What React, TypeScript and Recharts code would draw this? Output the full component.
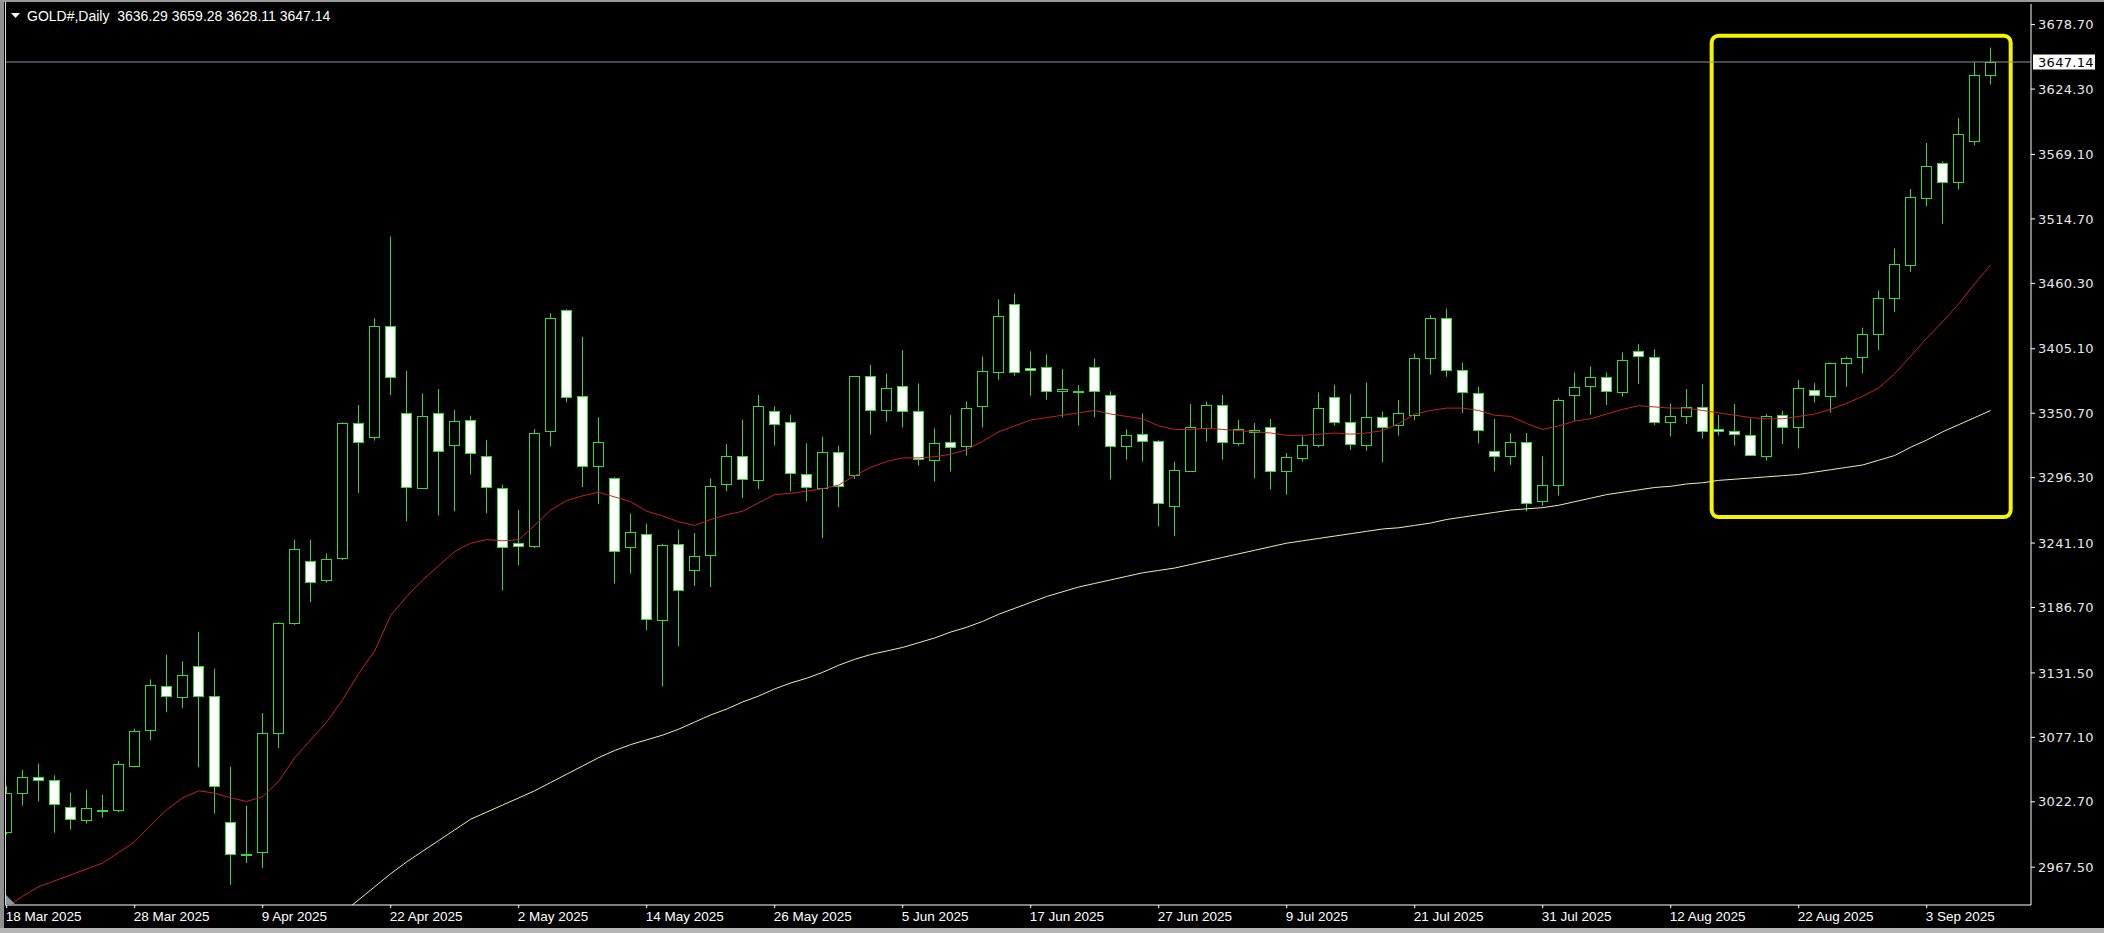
import React from 'react'
import { ComposedChart, Bar, Line, XAxis, YAxis, ReferenceLine, ReferenceArea } from 'recharts'

const SYMBOL = 'GOLD#,Daily'

// daily OHLC, 18 Mar 2025 .. 9 Sep 2025 (bar index 0..124)
const opens = [
  2997.4, 3030.4, 3043.8, 3041.4, 3018.3, 3007.6, 3015.0, 3015.4, 3053.2, 3083.6,
  3120.3, 3110.8, 3137.6, 3111.9, 3005.4, 2978.0, 2980.1, 3080.7, 3173.6, 3226.1,
  3210.3, 3228.6, 3342.2, 3330.9, 3423.9, 3350.6, 3287.7, 3350.6, 3324.2, 3345.0,
  3314.4, 3287.4, 3241.1, 3238.3, 3335.4, 3437.6, 3365.5, 3306.5, 3295.9, 3237.7,
  3249.0, 3176.0, 3240.5, 3218.3, 3231.2, 3291.0, 3314.9, 3294.4, 3352.8, 3343.0,
  3299.4, 3287.4, 3318.3, 3298.9, 3382.3, 3353.6, 3373.9, 3352.8, 3311.2, 3326.1,
  3322.7, 3356.5, 3385.9, 3443.2, 3388.7, 3390.1, 3369.8, 3369.6, 3389.3, 3366.3,
  3323.3, 3333.1, 3326.9, 3272.8, 3302.3, 3337.9, 3357.6, 3325.3, 3334.5, 3338.8,
  3301.7, 3312.6, 3323.9, 3364.0, 3343.5, 3323.9, 3347.7, 3341.0, 3349.5, 3396.9,
  3431.4, 3387.4, 3367.4, 3319.1, 3314.9, 3326.2, 3277.0, 3289.7, 3366.3, 3373.9,
  3380.9, 3368.3, 3403.4, 3397.8, 3343.0, 3348.1, 3356.3, 3337.0, 3336.0, 3332.6,
  3314.9, 3349.4, 3338.7, 3370.4, 3365.4, 3393.5, 3398.5, 3417.3, 3448.2, 3475.7,
  3532.4, 3561.9, 3545.9, 3580.2, 3636.29,
]
const highs = [
  3035.9, 3049.5, 3055.0, 3045.1, 3030.4, 3033.0, 3028.6, 3057.2, 3084.4, 3125.9,
  3146.8, 3141.3, 3166.2, 3135.0, 3052.4, 3019.4, 3097.6, 3174.3, 3244.0, 3244.0,
  3232.3, 3343.0, 3357.6, 3430.9, 3499.7, 3386.5, 3367.4, 3371.1, 3353.4, 3348.6,
  3328.1, 3290.2, 3269.2, 3337.4, 3435.1, 3438.5, 3415.2, 3347.2, 3296.7, 3265.8,
  3257.4, 3240.5, 3252.3, 3249.6, 3295.8, 3324.7, 3345.2, 3366.0, 3356.5, 3349.4,
  3325.3, 3330.9, 3323.3, 3382.3, 3391.5, 3384.2, 3403.9, 3375.8, 3337.9, 3349.1,
  3360.7, 3398.6, 3446.8, 3451.6, 3403.0, 3400.5, 3387.9, 3374.4, 3396.9, 3369.1,
  3337.3, 3350.5, 3328.1, 3309.8, 3358.4, 3360.4, 3366.0, 3344.9, 3342.4, 3345.8,
  3317.1, 3331.2, 3368.2, 3374.7, 3366.8, 3376.6, 3352.2, 3361.8, 3401.1, 3433.4,
  3439.0, 3393.5, 3373.0, 3345.8, 3333.7, 3334.0, 3314.4, 3363.5, 3385.1, 3390.2,
  3385.1, 3402.0, 3409.0, 3404.8, 3359.0, 3371.1, 3375.3, 3349.2, 3358.4, 3346.3,
  3350.0, 3352.8, 3378.6, 3376.1, 3393.5, 3398.5, 3422.9, 3454.4, 3489.8, 3540.0,
  3578.8, 3563.3, 3599.8, 3646.7, 3659.28,
]
const lows = [
  2995.0, 3019.4, 3023.1, 2996.6, 2999.2, 3004.3, 3009.1, 3013.9, 3051.7, 3074.5,
  3098.3, 3102.0, 3051.7, 3012.8, 2952.6, 2970.9, 2966.9, 3068.2, 3172.0, 3191.2,
  3207.7, 3226.8, 3283.5, 3327.6, 3366.0, 3259.4, 3286.9, 3264.4, 3267.8, 3298.9,
  3266.4, 3201.3, 3222.3, 3236.9, 3322.8, 3359.9, 3288.3, 3274.2, 3206.9, 3215.3,
  3167.6, 3120.4, 3154.1, 3205.0, 3204.0, 3284.9, 3279.0, 3286.8, 3323.3, 3284.6,
  3276.4, 3245.3, 3271.4, 3295.2, 3332.6, 3343.5, 3338.8, 3306.5, 3293.0, 3301.4,
  3314.9, 3338.8, 3378.9, 3382.3, 3365.4, 3362.1, 3347.2, 3340.2, 3347.2, 3294.7,
  3311.5, 3309.8, 3255.4, 3246.9, 3301.4, 3326.7, 3311.5, 3323.3, 3295.8, 3286.3,
  3282.0, 3309.8, 3321.9, 3340.2, 3319.7, 3319.1, 3309.3, 3331.8, 3345.0, 3383.2,
  3381.5, 3350.9, 3325.3, 3301.5, 3307.1, 3267.8, 3272.3, 3281.2, 3344.4, 3349.5,
  3357.6, 3364.9, 3375.3, 3340.8, 3331.0, 3341.6, 3329.2, 3331.8, 3323.4, 3314.9,
  3310.7, 3324.7, 3321.0, 3359.8, 3351.3, 3373.0, 3384.2, 3404.1, 3436.1, 3470.1,
  3525.4, 3510.5, 3539.4, 3576.8, 3628.11,
]
const closes = [
  3030.4, 3044.0, 3041.4, 3020.5, 3008.4, 3017.2, 3016.0, 3054.3, 3082.5, 3121.1,
  3111.9, 3129.5, 3111.9, 3035.9, 2979.0, 2979.0, 3080.7, 3173.6, 3236.0, 3208.4,
  3227.9, 3342.4, 3326.2, 3423.9, 3380.9, 3288.3, 3348.6, 3318.6, 3343.9, 3316.9,
  3288.3, 3237.7, 3238.6, 3333.7, 3430.9, 3364.1, 3306.0, 3326.2, 3234.4, 3250.4,
  3176.8, 3239.7, 3201.8, 3230.2, 3289.6, 3314.9, 3295.2, 3356.5, 3341.6, 3300.0,
  3288.2, 3317.7, 3289.1, 3381.7, 3353.4, 3372.4, 3352.2, 3312.1, 3325.3, 3322.5,
  3354.8, 3386.5, 3432.8, 3385.1, 3386.8, 3369.1, 3371.0, 3368.2, 3369.1, 3322.8,
  3332.3, 3327.5, 3274.7, 3302.8, 3338.8, 3357.6, 3326.1, 3337.3, 3336.8, 3301.7,
  3313.5, 3323.9, 3354.8, 3342.9, 3324.7, 3347.2, 3338.8, 3350.6, 3396.9, 3431.4,
  3387.1, 3368.3, 3336.6, 3314.4, 3326.2, 3274.8, 3289.7, 3362.1, 3373.0, 3380.9,
  3369.1, 3395.5, 3398.6, 3343.0, 3348.1, 3355.6, 3335.4, 3335.4, 3332.8, 3315.4,
  3348.0, 3338.7, 3372.4, 3366.0, 3393.5, 3397.7, 3417.3, 3448.2, 3476.8, 3533.3,
  3559.7, 3545.9, 3586.3, 3636.3, 3647.14,
]

// red moving average
const maFast = [
  2934, 2943, 2951, 2956, 2961, 2966, 2971, 2980, 2989, 3003,
  3016, 3026, 3032, 3030, 3026, 3023, 3027, 3040, 3060, 3075,
  3090, 3109, 3131, 3150, 3180, 3196, 3210, 3222, 3234, 3241,
  3244, 3243, 3244, 3256, 3269, 3277, 3281, 3284, 3280, 3276,
  3268, 3264, 3259, 3256, 3261, 3265, 3268, 3275, 3282, 3283,
  3285, 3287, 3290, 3298, 3305, 3310, 3313, 3313, 3314, 3316,
  3320, 3327, 3335, 3340, 3345, 3347, 3349, 3351, 3353, 3350,
  3348, 3346, 3340, 3337, 3337, 3338, 3337, 3336, 3335, 3334,
  3332, 3332, 3333, 3334, 3333, 3334, 3336, 3342, 3350, 3353,
  3355, 3355, 3353, 3349, 3348, 3342, 3337, 3340, 3344, 3346,
  3350, 3354, 3357, 3356, 3355, 3355, 3353, 3351, 3349, 3347,
  3346, 3346, 3348, 3350, 3354, 3359, 3365, 3372, 3384, 3399,
  3414, 3428, 3443, 3460, 3476,
]
// pale yellow moving average, starts off the bottom of the chart
const maSlow = [
  null, null, null, null, null, null, null, null, null, null,
  null, null, null, null, null, null, null, null, null, null,
  null, 2929, 2940, 2951, 2962, 2972, 2981, 2990, 2999, 3008,
  3014, 3020, 3026, 3032, 3039, 3046, 3053, 3060, 3066, 3071,
  3075, 3079, 3084, 3090, 3096, 3101, 3107, 3112, 3118, 3123,
  3127, 3132, 3138, 3143, 3147, 3150, 3153, 3157, 3161, 3166,
  3170, 3175, 3181, 3186, 3191, 3196, 3200, 3204, 3207, 3210,
  3213, 3216, 3218, 3220, 3223, 3226, 3229, 3232, 3235, 3238,
  3241, 3243, 3245, 3247, 3249, 3251, 3253, 3254, 3256, 3258,
  3261, 3263, 3265, 3267, 3269, 3270, 3271, 3273, 3276, 3279,
  3282, 3284, 3286, 3288, 3289, 3291, 3292, 3294, 3295, 3296,
  3297, 3298, 3299, 3301, 3303, 3305, 3307, 3311, 3315, 3322,
  3328, 3335, 3341, 3347, 3353,
]

const tickBars = [0, 8, 16, 24, 32, 40, 48, 56, 64, 72, 80, 88, 96, 104, 112, 120]
const tickLabels = [
  '18 Mar 2025', '28 Mar 2025', '9 Apr 2025', '22 Apr 2025', '2 May 2025', '14 May 2025',
  '26 May 2025', '5 Jun 2025', '17 Jun 2025', '27 Jun 2025', '9 Jul 2025', '21 Jul 2025',
  '31 Jul 2025', '12 Aug 2025', '22 Aug 2025', '3 Sep 2025',
]
const priceTicks = [
  3678.7, 3624.3, 3569.1, 3514.7, 3460.3, 3405.1, 3350.7,
  3296.3, 3241.1, 3186.7, 3131.5, 3077.1, 3022.7, 2967.5,
]

const GREEN = '#38d838'
const W = 2104
const H = 933

const data = opens.map((o, i) => ({
  i,
  o,
  h: highs[i],
  l: lows[i],
  c: closes[i],
  range: [lows[i], highs[i]],
  fast: maFast[i],
  slow: maSlow[i],
}))

const last = data[data.length - 1]

function Candle(props: any) {
  const { x, y, width, height, payload } = props
  if (x == null || y == null) return null
  const { o, h, l, c } = payload
  const top = Math.min(y, y + height)
  const hh = Math.abs(height)
  const k = hh / (h - l || 1)
  const py = (p: number) => top + (h - p) * k
  const cx = Math.round(x + width / 2) + 0.5
  const bTop = Math.round(py(Math.max(o, c))) + 0.5
  const bBot = Math.round(py(Math.min(o, c))) + 0.5
  const bull = c >= o
  return (
    <g>
      <line x1={cx} x2={cx} y1={top} y2={top + hh} stroke={GREEN} strokeWidth={1} />
      {bBot - bTop < 1 ? (
        <line x1={cx - 5} x2={cx + 5} y1={bTop} y2={bTop} stroke={GREEN} strokeWidth={1.5} />
      ) : (
        <rect x={cx - 5} y={bTop} width={10} height={bBot - bTop} fill={bull ? '#000' : '#fff'} stroke={GREEN} strokeWidth={1} />
      )}
    </g>
  )
}

function DateTick(props: any) {
  const { x, y, payload } = props
  const idx = tickBars.indexOf(payload.value)
  return (
    <text x={x - 1} y={y} dy="0.71em" textAnchor="start" fill="#ffffff"
      fontSize={13.5} fontFamily="'Liberation Sans', Arial, sans-serif">
      {tickLabels[idx]}
    </text>
  )
}

function BidLabel(props: any) {
  const { viewBox } = props
  if (!viewBox) return null
  const bx = viewBox.x + viewBox.width + 2
  const by = viewBox.y
  return (
    <g>
      <rect x={bx} y={by - 7.5} width={62} height={15} fill="#ffffff" />
      <text x={bx + 5} y={by} dy="0.36em" fill="#000" fontSize={13} letterSpacing={0.3}
        fontFamily="'DejaVu Sans', sans-serif">
        {last.c.toFixed(2)}
      </text>
    </g>
  )
}

export default function App() {
  return (
    <div style={{ position: 'relative', width: W, height: H, background: '#000', overflow: 'hidden' }}>
      <style>{'body{margin:0;background:#000;}'}</style>
      <ComposedChart width={W} height={H} data={data} margin={{ top: 4, right: 0, left: 5, bottom: 0 }}>
        <XAxis
          dataKey="i"
          type="number"
          domain={[-0.106, 126.52]}
          allowDataOverflow
          ticks={tickBars}
          interval={0}
          height={28}
          stroke="#ffffff"
          tickSize={3}
          tickMargin={3}
          tick={<DateTick />}
        />
        <YAxis
          orientation="right"
          domain={[2935.6, 3696.1]}
          allowDataOverflow
          ticks={priceTicks}
          interval={0}
          width={73}
          stroke="#ffffff"
          tickSize={4}
          tickMargin={3}
          tickFormatter={(v: number) => v.toFixed(2)}
          tick={{ fill: '#e8e8e8', fontSize: 13, fontFamily: "'DejaVu Sans', sans-serif", letterSpacing: 0.3, textAnchor: 'start' }}
        />
        <ReferenceLine y={last.c} stroke="#8c939c" strokeWidth={1} label={<BidLabel />} />
        <Bar dataKey="range" barSize={11} shape={(p: any) => <Candle {...p} />} isAnimationActive={false} />
        <Line dataKey="fast" stroke="#c82020" strokeWidth={1} dot={false} isAnimationActive={false} />
        <Line dataKey="slow" stroke="#f3eeaa" strokeWidth={1} dot={false} isAnimationActive={false} connectNulls={false} />
        <ReferenceArea
          x1={106.56}
          x2={125.25}
          y1={3263}
          y2={3669.4}
          shape={(p: any) => (
            <rect x={p.x} y={p.y} width={p.width} height={p.height} rx={7} ry={7}
              fill="none" stroke="#f4f400" strokeWidth={4} />
          )}
        />
      </ComposedChart>
      <div style={{ position: 'absolute', left: 0, top: 0, width: 4, height: H, background: '#8f8f8f' }} />
      <div style={{ position: 'absolute', left: 0, top: 0, width: W, height: 2, background: '#9a9a9a' }} />
      <div style={{ position: 'absolute', left: 0, top: H - 5, width: W, height: 5, background: '#b4b4b4' }} />
      <div style={{ position: 'absolute', left: 5, top: 2, width: 1, height: 903, background: '#dcdcdc' }} />
      <svg style={{ position: 'absolute', left: 0, top: 0 }} width={24} height={H}>
        <polygon points="6,895 6,904 15,904" fill="#8a97a3" />
        <polygon points="11,13 20,13 15.5,18" fill="#ffffff" />
      </svg>
      <div style={{
        position: 'absolute', left: 27, top: 8, color: '#fff', fontSize: 14,
        fontFamily: "'Liberation Sans', Arial, sans-serif", whiteSpace: 'pre', lineHeight: '16px',
      }}>
        {`${SYMBOL}  ${last.o.toFixed(2)} ${last.h.toFixed(2)} ${last.l.toFixed(2)} ${last.c.toFixed(2)}`}
      </div>
    </div>
  )
}
